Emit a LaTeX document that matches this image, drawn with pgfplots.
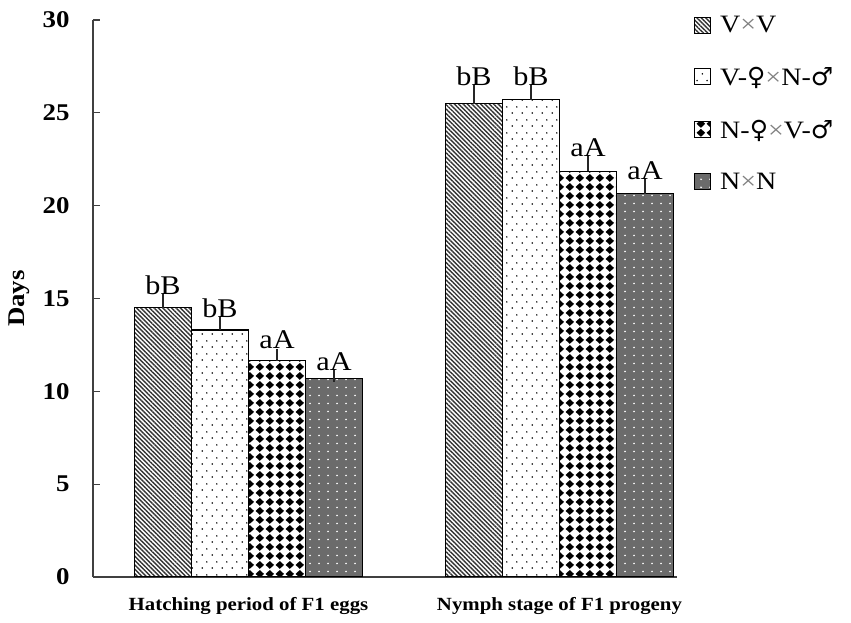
\documentclass[border=0pt]{standalone}
\usepackage{fontspec}
\setmainfont[FakeStretch=1.12]{Liberation Serif}
\newfontfamily\symfont{DejaVu Sans}
\usepackage{pgfplots}
\usepackage{pgfplotstable}
\pgfplotsset{compat=1.18}
\usetikzlibrary{patterns,patterns.meta}

\pgfdeclarepatternformonly{sparsedots}{\pgfqpoint{0pt}{0pt}}{\pgfqpoint{10pt}{13pt}}{\pgfqpoint{10pt}{13pt}}{%
  \pgfpathcircle{\pgfqpoint{2.5pt}{3.25pt}}{0.9pt}%
  \pgfpathcircle{\pgfqpoint{7.5pt}{9.75pt}}{0.9pt}%
  \pgfusepath{fill}}
\pgfdeclarepatternformonly{diamonds}{\pgfqpoint{0pt}{0pt}}{\pgfqpoint{9.8pt}{9pt}}{\pgfqpoint{9.8pt}{9pt}}{%
  \pgfpathmoveto{\pgfqpoint{4.9pt}{0.2pt}}%
  \pgfpathlineto{\pgfqpoint{9.2pt}{4.5pt}}%
  \pgfpathlineto{\pgfqpoint{4.9pt}{8.8pt}}%
  \pgfpathlineto{\pgfqpoint{0.6pt}{4.5pt}}%
  \pgfpathclose
  \pgfusepath{fill}}
\pgfdeclarepatternformonly{whitedots}{\pgfqpoint{0pt}{0pt}}{\pgfqpoint{8.5pt}{8pt}}{\pgfqpoint{8.5pt}{8pt}}{%
  \pgfpathcircle{\pgfqpoint{4.25pt}{4pt}}{1pt}%
  \pgfusepath{fill}}

\pgfplotstableread{
x y e lab
1 14.5 0.40 bB
2 25.5 0.65 bB
}\tA
\pgfplotstableread{
x y e lab
1 13.3 0.38 bB
2 25.7 0.45 bB
}\tB
\pgfplotstableread{
x y e lab
1 11.65 0.32 aA
2 21.85 0.50 aA
}\tC
\pgfplotstableread{
x y e lab
1 10.7 0.13 aA
2 20.65 0.45 aA
}\tD

\begin{document}
\begin{tikzpicture}
\path (-93pt,-46pt) rectangle (758pt,577pt);
\begin{axis}[
  scale only axis,
  width=584pt, height=557pt,
  xmin=0.5, xmax=2.378,
  ymin=0, ymax=30,
  ytick={0,5,...,30},
  xtick={1,2},
  xticklabels={Hatching period of F1 eggs, Nymph stage of F1 progeny},
  xtick style={draw=none},
  axis lines*=left,
  axis line style={black!75, line width=1.3pt},
  ytick style={black!75, line width=1.3pt},
  tick align=inside,
  major tick length=7pt,
  /pgf/number format/assume math mode=true,
  yticklabel style={font=\fontsize{24}{26}\selectfont\bfseries, xshift=-20pt},
  xticklabel style={font=\fontsize{18.6}{22}\selectfont\bfseries, yshift=-10pt},
  ylabel={Days},
  ylabel style={font=\fontsize{24}{26}\selectfont\bfseries, yshift=4pt},
  ylabel shift=2pt,
  ybar=0pt,
  bar width=57pt,
  point meta=explicit symbolic,
  nodes near coords,
  visualization depends on={\thisrow{e} \as \err},
  every node near coord/.append style={font=\fontsize{27}{29}\selectfont, inner sep=1pt, yshift=\err*18.567pt+4pt, black},
  error bars/y dir=plus,
  error bars/y explicit,
  error bars/error bar style={line width=1.4pt, black!85},
  error bars/error mark options={line width=1.4pt, mark size=6pt, black!85},
  legend style={at={(1,1)}, anchor=north west, xshift=17pt, yshift=6pt, draw=none, fill=none,
    font=\fontsize{25}{27}\selectfont, row sep=29pt, inner sep=0pt,
    /tikz/every odd column/.append style={column sep=7pt}},
  legend cell align=left,
  legend image code/.code={\draw[#1, line width=1pt] (0pt,-8pt) rectangle (16pt,8pt);},
]
\addplot[draw=black, line width=1.2pt, fill=white, postaction={pattern={Lines[angle=-45,distance=3.1pt,line width=1.4pt]}, pattern color=black!80}]
  table[x=x, y=y, y error=e, meta=lab] {\tA};
\addplot[draw=black, line width=1.2pt, fill=white, postaction={pattern=sparsedots, pattern color=black}]
  table[x=x, y=y, y error=e, meta=lab] {\tB};
\addplot[draw=black, line width=1.2pt, fill=white, postaction={pattern=diamonds, pattern color=black}]
  table[x=x, y=y, y error=e, meta=lab] {\tC};
\addplot[draw=black, line width=1.2pt, fill=black!58, postaction={pattern=whitedots, pattern color=white}]
  table[x=x, y=y, y error=e, meta=lab] {\tD};
\legend{V{\color{gray}×}V, V-{\symfont ♀}{\color{gray}×}N-{\symfont ♂}, N-{\symfont ♀}{\color{gray}×}V-{\symfont ♂}, N{\color{gray}×}N}
\end{axis}
\end{tikzpicture}
\end{document}
